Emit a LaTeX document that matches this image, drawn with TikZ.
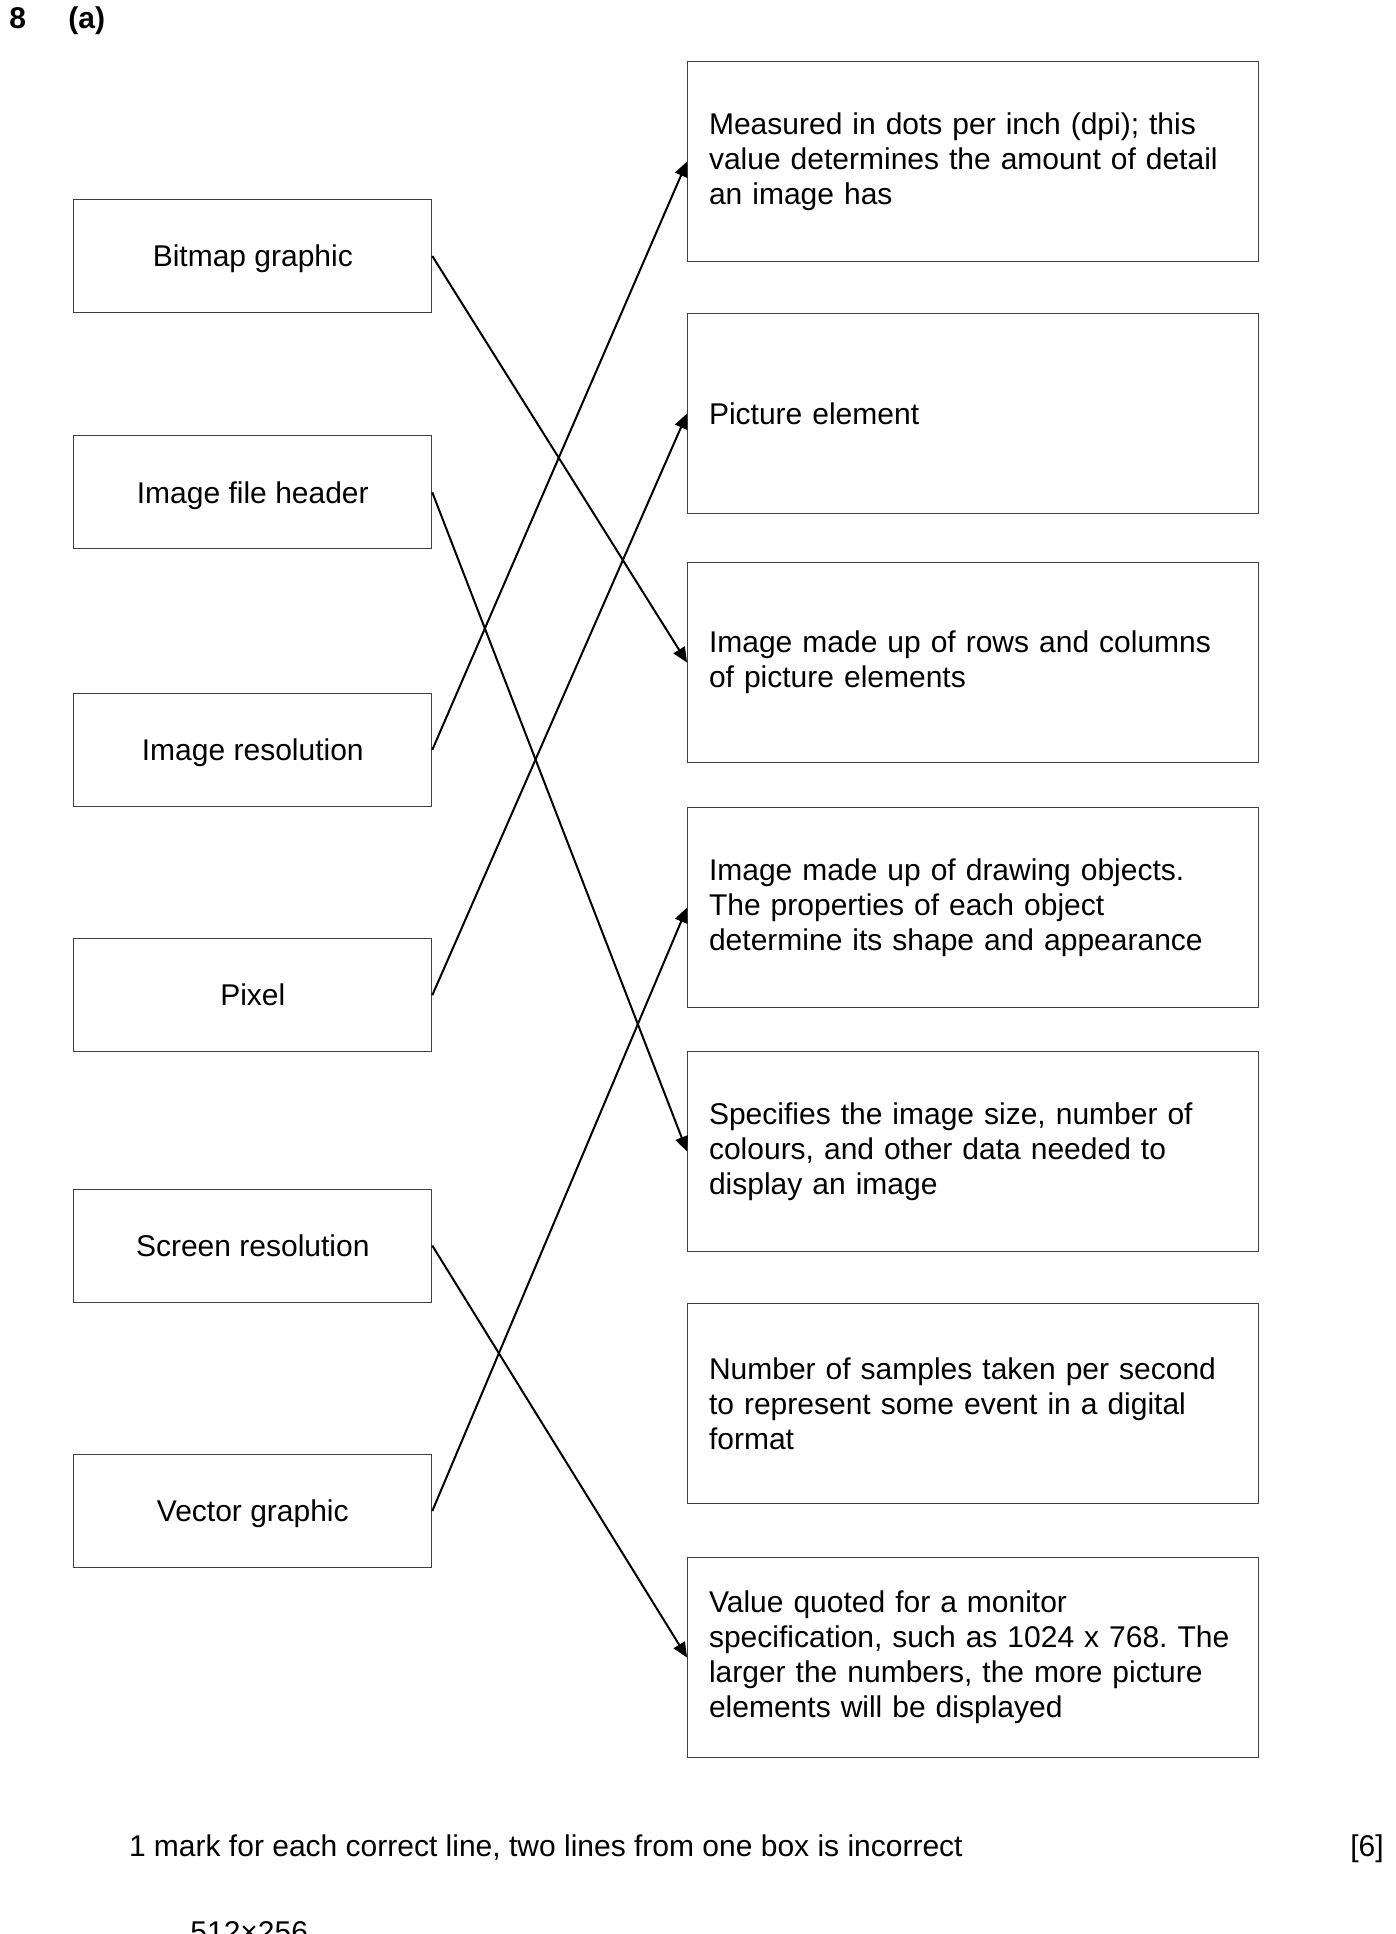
\documentclass[tikz,border=0pt]{standalone}
\usepackage{fontspec}
\setmainfont{Liberation Sans}
\usepackage{tikz}
\usetikzlibrary{positioning,arrows.meta}
\frenchspacing

\begin{document}
\begin{tikzpicture}[
    term/.style={
        draw=black!75,
        line width=0.5pt,
        rectangle,
        minimum width=179pt,
        minimum height=56.5pt,
        align=center,
        text height=10.75pt,
        text depth=0pt,
        font=\fontsize{15pt}{17.5pt}\selectfont
    },
    meaning/.style={
        draw=black!75,
        line width=0.5pt,
        rectangle,
        text width=263.75pt,
        inner xsep=10.75pt,
        minimum height=100pt,
        align=left,
        text height=10.75pt,
        font=\fontsize{15pt}{17.5pt}\selectfont
    },
    heading/.style={
        font=\fontsize{15pt}{17.5pt}\selectfont\bfseries,
        inner sep=0pt
    },
    note/.style={
        font=\fontsize{15pt}{17.5pt}\selectfont,
        inner sep=0pt
    },
    link/.style={
        -{Triangle[length=7.5pt,width=6.5pt]},
        line width=1pt,
        black
    }
]
    % Page frame
    \useasboundingbox (0,0) rectangle (698pt,-967pt);
    \clip (0,0) rectangle (698pt,-967pt);

    % Question number
    \node[heading, anchor=base west] (qnum) at (4.5pt,-14pt) {8};
    \node[heading, anchor=base west] (qpart) at (34pt,-14pt) {(a)};

    % Terms on the left
    \node[term] (bitmap) at (126.4pt,-128pt) {Bitmap graphic};
    \node[term] (header) [below=61.2pt of bitmap] {Image file header};
    \node[term] (imgres) [below=71.7pt of header] {Image resolution};
    \node[term] (pixel) [below=65.7pt of imgres] {Pixel};
    \node[term] (scrres) [below=68.2pt of pixel] {Screen resolution};
    \node[term] (vector) [below=75.7pt of scrres] {Vector graphic};

    % Descriptions on the right
    \node[meaning] (dpi) at (486.4pt,-80.75pt) {
        Measured in dots per inch (dpi); this\\
        value determines the amount of detail\\
        an image has
    };
    \node[meaning] (picel) [below=25.5pt of dpi] {
        Picture element
    };
    \node[meaning] (grid) [below=24pt of picel] {
        Image made up of rows and columns\\
        of picture elements
    };
    \node[meaning] (objects) [below=22pt of grid] {
        Image made up of drawing objects.\\
        The properties of each object\\
        determine its shape and appearance
    };
    \node[meaning] (spec) [below=21.5pt of objects] {
        Specifies the image size, number of\\
        colours, and other data needed to\\
        display an image
    };
    \node[meaning] (samples) [below=25.5pt of spec] {
        Number of samples taken per second\\
        to represent some event in a digital\\
        format
    };
    \node[meaning] (monitor) [below=26.5pt of samples] {
        Value quoted for a monitor\\
        specification, such as 1024 x 768. The\\
        larger the numbers, the more picture\\
        elements will be displayed
    };

    % Matching lines
    \draw[link] (bitmap.east) -- (grid.west);
    \draw[link] (header.east) -- (spec.west);
    \draw[link] (imgres.east) -- (dpi.west);
    \draw[link] (pixel.east) -- (picel.west);
    \draw[link] (scrres.east) -- (monitor.west);
    \draw[link] (vector.east) -- (objects.west);

    % Mark scheme notes
    \node[note, anchor=base west] (marks) at (64.3pt,-928pt)
        {1 mark for each correct line, two lines from one box is incorrect};
    \node[note, anchor=base east] (total) at (692pt,-928pt) {[6]};
    \node[note, anchor=base west] (next) at (95pt,-971pt) {512×256};
\end{tikzpicture}
\end{document}
